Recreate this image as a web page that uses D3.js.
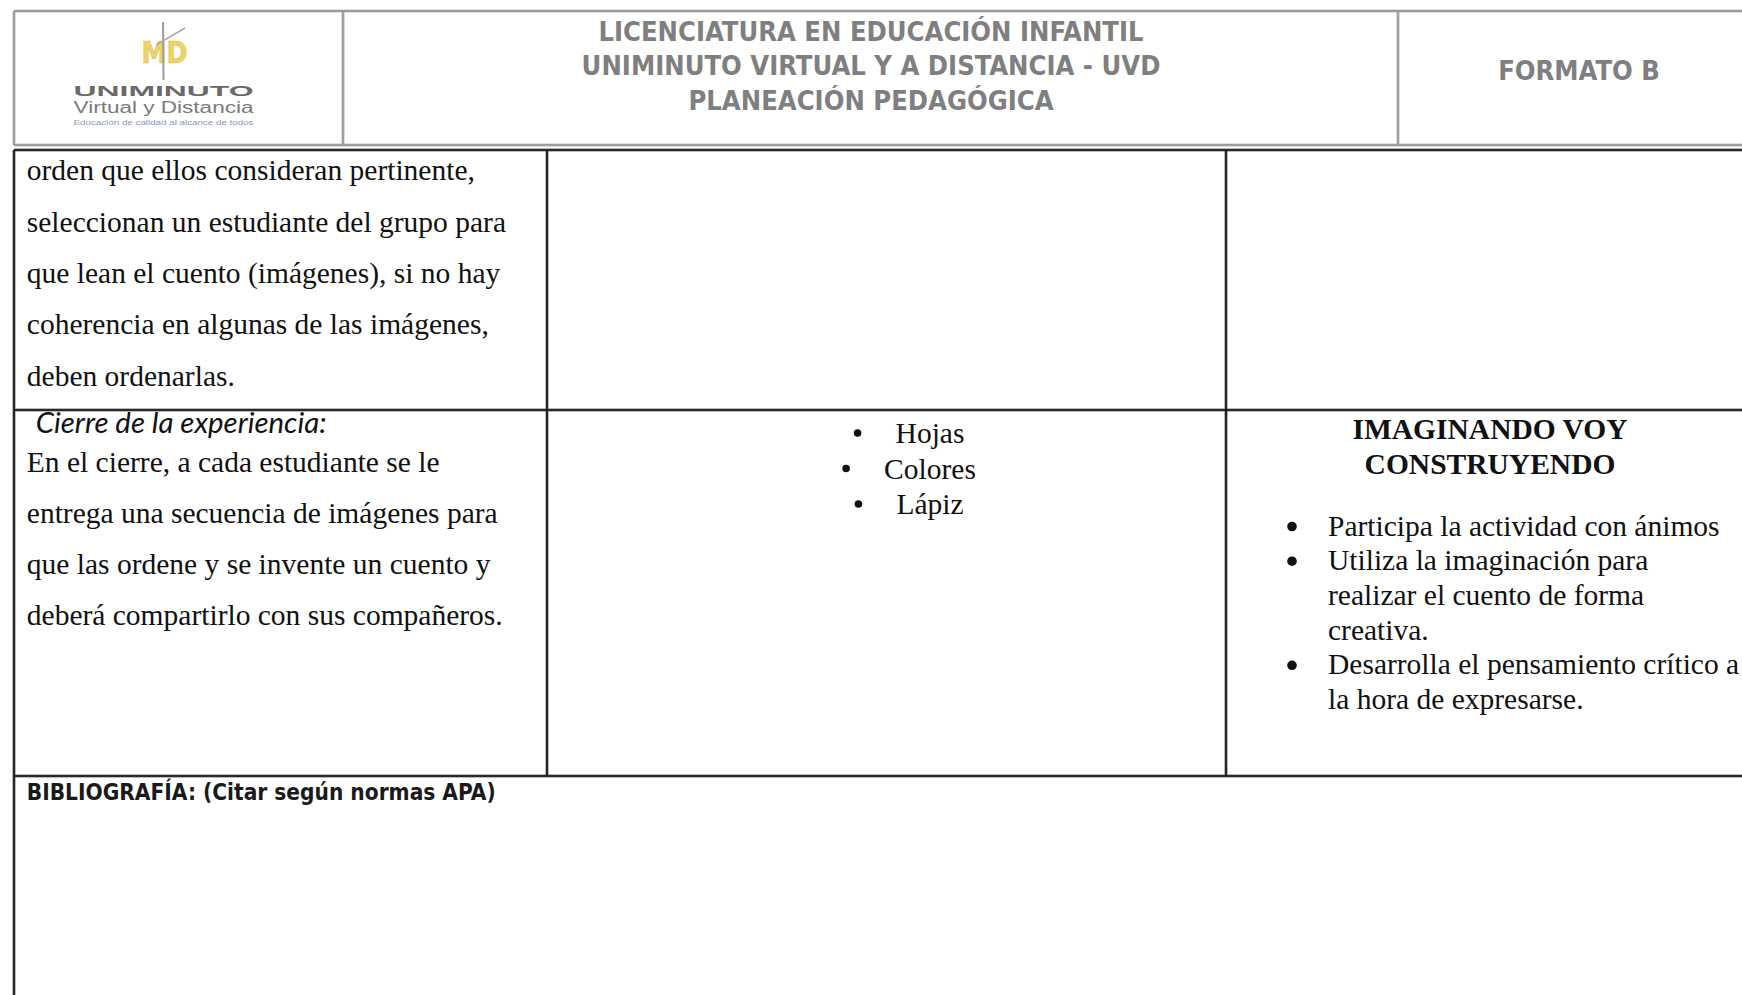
<!DOCTYPE html>
<html>
<head>
<meta charset="utf-8">
<script src="https://cdn.jsdelivr.net/npm/d3@7"></script>
<style>
  html, body { margin: 0; padding: 0; background: #fff; }
  svg { display: block; }
</style>
</head>
<body>
<svg id="doc" width="1742" height="995"></svg>
<script>
// ---------------- DATA ----------------
const headerLines = [
  "LICENCIATURA EN EDUCACIÓN INFANTIL",
  "UNIMINUTO VIRTUAL Y A DISTANCIA - UVD",
  "PLANEACIÓN PEDAGÓGICA"
];
const headerRight = "FORMATO B";
const logoLines = ["UNIMINUTO", "Virtual y Distancia", "Educación de calidad al alcance de todos"];
const logoMark = "MD";

const row1Text = [
  "orden que ellos consideran pertinente,",
  "seleccionan un estudiante del grupo para",
  "que lean el cuento (imágenes), si no hay",
  "coherencia en algunas de las imágenes,",
  "deben ordenarlas."
];
const closingTitle = "Cierre de la experiencia:";
const closingText = [
  "En el cierre, a cada estudiante se le",
  "entrega una secuencia de imágenes para",
  "que las ordene y se invente un cuento y",
  "deberá compartirlo con sus compañeros."
];
const materials = ["Hojas", "Colores", "Lápiz"];
const evalTitle = ["IMAGINANDO VOY", "CONSTRUYENDO"];
const evalBullets = [
  ["Participa la actividad con ánimos"],
  ["Utiliza la imaginación para", "realizar el cuento de forma", "creativa."],
  ["Desarrolla el pensamiento crítico a", "la hora de expresarse."]
];
const bibliography = "BIBLIOGRAFÍA: (Citar según normas APA)";

// ---------------- LAYOUT ----------------
const svg = d3.select("#doc");

// header grid
const hx = d3.scaleOrdinal().domain(["left", "c1", "c2", "right"]).range([14, 343, 1398, 1790]);
const hy = d3.scaleOrdinal().domain(["top", "bottom"]).range([11, 145]);
// main grid
const mx = d3.scaleOrdinal().domain(["left", "c1", "c2", "right"]).range([14, 547, 1226, 1790]);
const my = d3.scaleOrdinal().domain(["top", "r1", "r2", "bottom"]).range([150, 410, 776, 1020]);

const serif = "'Liberation Serif', 'Times New Roman', serif";
const sansB = "'DejaVu Sans Condensed', 'DejaVu Sans', sans-serif";
const bodySize = 29.5;

// ---------- header borders (grey) ----------
const hLines = [
  [hx("left"), hy("top"), hx("right"), hy("top")],
  [hx("left"), hy("bottom"), hx("right"), hy("bottom")],
  [hx("left"), hy("top"), hx("left"), hy("bottom")],
  [hx("c1"), hy("top"), hx("c1"), hy("bottom")],
  [hx("c2"), hy("top"), hx("c2"), hy("bottom")]
];
svg.append("g").selectAll("line").data(hLines).join("line")
  .attr("x1", d => d[0]).attr("y1", d => d[1]).attr("x2", d => d[2]).attr("y2", d => d[3])
  .attr("stroke", "#c4c4c4").attr("stroke-width", 3.2);
svg.append("g").selectAll("line").data(hLines).join("line")
  .attr("x1", d => d[0]).attr("y1", d => d[1]).attr("x2", d => d[2]).attr("y2", d => d[3])
  .attr("stroke", "#8e8e8e").attr("stroke-width", 1.3);

// ---------- main table borders (black) ----------
const mLines = [
  [mx("left"), my("top"), mx("right"), my("top")],
  [mx("left"), my("r1"), mx("right"), my("r1")],
  [mx("left"), my("r2"), mx("right"), my("r2")],
  [mx("left"), my("top"), mx("left"), my("bottom")],
  [mx("c1"), my("top"), mx("c1"), my("r2")],
  [mx("c2"), my("top"), mx("c2"), my("r2")]
];
svg.append("g").selectAll("line").data(mLines).join("line")
  .attr("x1", d => d[0]).attr("y1", d => d[1]).attr("x2", d => d[2]).attr("y2", d => d[3])
  .attr("stroke", "#777").attr("stroke-width", 3);
svg.append("g").selectAll("line").data(mLines).join("line")
  .attr("x1", d => d[0]).attr("y1", d => d[1]).attr("x2", d => d[2]).attr("y2", d => d[3])
  .attr("stroke", "#111").attr("stroke-width", 1.6);

// ---------- logo ----------
const logo = svg.append("g");
logo.append("text").text(logoMark)
  .attr("x", 141.5).attr("y", 63)
  .attr("font-family", "'DejaVu Sans', sans-serif").attr("font-weight", "bold")
  .attr("font-size", 31).attr("textLength", 46).attr("lengthAdjust", "spacingAndGlyphs")
  .attr("fill", "#edd36a").attr("stroke", "#e2c24a").attr("stroke-width", 0.6);
logo.append("line").attr("x1", 163).attr("y1", 22).attr("x2", 163.5).attr("y2", 80)
  .attr("stroke", "#9c9c9c").attr("stroke-width", 2);
logo.append("line").attr("x1", 156).attr("y1", 45).attr("x2", 185).attr("y2", 28)
  .attr("stroke", "#aaaaaa").attr("stroke-width", 1.5);
logo.append("text").text(logoLines[0])
  .attr("x", 73.5).attr("y", 95.8)
  .attr("font-family", "'Liberation Sans', Arial, sans-serif").attr("font-weight", "bold")
  .attr("font-size", 14.5).attr("textLength", 180).attr("lengthAdjust", "spacingAndGlyphs")
  .attr("fill", "#6a6a6a");
logo.append("text").text(logoLines[1])
  .attr("x", 73.5).attr("y", 112.5)
  .attr("font-family", "'Liberation Sans', Arial, sans-serif")
  .attr("font-size", 16).attr("textLength", 180).attr("lengthAdjust", "spacingAndGlyphs")
  .attr("fill", "#7b7b7b");
logo.append("text").text(logoLines[2])
  .attr("x", 73.5).attr("y", 124.5)
  .attr("font-family", "'Liberation Sans', Arial, sans-serif")
  .attr("font-size", 6.5).attr("textLength", 180).attr("lengthAdjust", "spacingAndGlyphs")
  .attr("fill", "#8596c4");

// ---------- header titles ----------
const titleCx = (hx("c1") + hx("c2")) / 2 + 0.5;
const titleY = d3.scaleLinear().domain([0, 2]).range([40.5, 109.5]);
const titles = svg.append("g").selectAll("text").data(headerLines).join("text")
  .text(d => d)
  .attr("x", titleCx).attr("y", (d, i) => titleY(i))
  .attr("text-anchor", "middle")
  .attr("font-family", sansB).attr("font-weight", "bold")
  .attr("font-size", 24).attr("fill", "#7f7f7f");
// fit font size on the widest line (target width ≈ 579px)
const w2 = titles.nodes()[1].getComputedTextLength();
const titleSize = 24 * 579 / w2;
titles.attr("font-size", titleSize);

svg.append("text").text(headerRight)
  .attr("x", 1579).attr("y", 80)
  .attr("text-anchor", "middle")
  .attr("font-family", sansB).attr("font-weight", "bold")
  .attr("font-size", titleSize).attr("fill", "#7f7f7f");

// ---------- row 1, col 1 ----------
const lineStep = 51.3;
svg.append("g").selectAll("text").data(row1Text).join("text")
  .text(d => d)
  .attr("x", 26.8).attr("y", (d, i) => 180.3 + i * lineStep)
  .attr("font-family", serif).attr("font-size", bodySize).attr("fill", "#111");

// ---------- row 2, col 1 ----------
const ct = svg.append("text").text(closingTitle)
  .attr("x", 35.7).attr("y", 433)
  .attr("font-family", "Lato, 'Open Sans', sans-serif").attr("font-style", "italic")
  .attr("font-size", 22).attr("fill", "#111");
const ctw = ct.node().getComputedTextLength();
ct.attr("font-size", 22 * 291 / ctw);

svg.append("g").selectAll("text").data(closingText).join("text")
  .text(d => d)
  .attr("x", 26.8).attr("y", (d, i) => 471.5 + i * lineStep)
  .attr("font-family", serif).attr("font-size", bodySize).attr("fill", "#111");

// ---------- row 2, col 2 : materials ----------
const matCx = 911;
const matG = svg.append("g");
const matItems = matG.selectAll("g").data(materials).join("g");
matItems.each(function(d, i) {
  const g = d3.select(this);
  const y = 443 + i * 35.5;
  const t = g.append("text").text(d)
    .attr("y", y)
    .attr("font-family", serif).attr("font-size", bodySize).attr("fill", "#111");
  const tw = t.node().getComputedTextLength();
  const gap = 38;
  const bx = matCx - (gap + tw) / 2;
  g.append("circle").attr("cx", bx).attr("cy", y - 10).attr("r", 3.8).attr("fill", "#111");
  t.attr("x", bx + gap);
});

// ---------- row 2, col 3 : evaluation ----------
svg.append("g").selectAll("text").data(evalTitle).join("text")
  .text(d => d)
  .attr("x", 1490).attr("y", (d, i) => 439 + i * 35)
  .attr("text-anchor", "middle")
  .attr("font-family", serif).attr("font-weight", "bold")
  .attr("font-size", bodySize).attr("fill", "#111");

const evalStep = 34.7;
let k = 0;
const evalG = svg.append("g");
evalBullets.forEach(item => {
  evalG.append("circle").attr("cx", 1292).attr("cy", 535.5 + k * evalStep - 9)
    .attr("r", 4.8).attr("fill", "#111");
  item.forEach(line => {
    evalG.append("text").text(line)
      .attr("x", 1328).attr("y", 535.5 + k * evalStep)
      .attr("font-family", serif).attr("font-size", bodySize).attr("fill", "#111");
    k++;
  });
});

// ---------- row 3 : bibliography ----------
const bib = svg.append("text").text(bibliography)
  .attr("x", 26.8).attr("y", 800)
  .attr("font-family", sansB).attr("font-weight", "bold")
  .attr("font-size", 20).attr("fill", "#1a1a1a");
const bw = bib.node().getComputedTextLength();
bib.attr("font-size", 20 * 469 / bw);
</script>
</body>
</html>
